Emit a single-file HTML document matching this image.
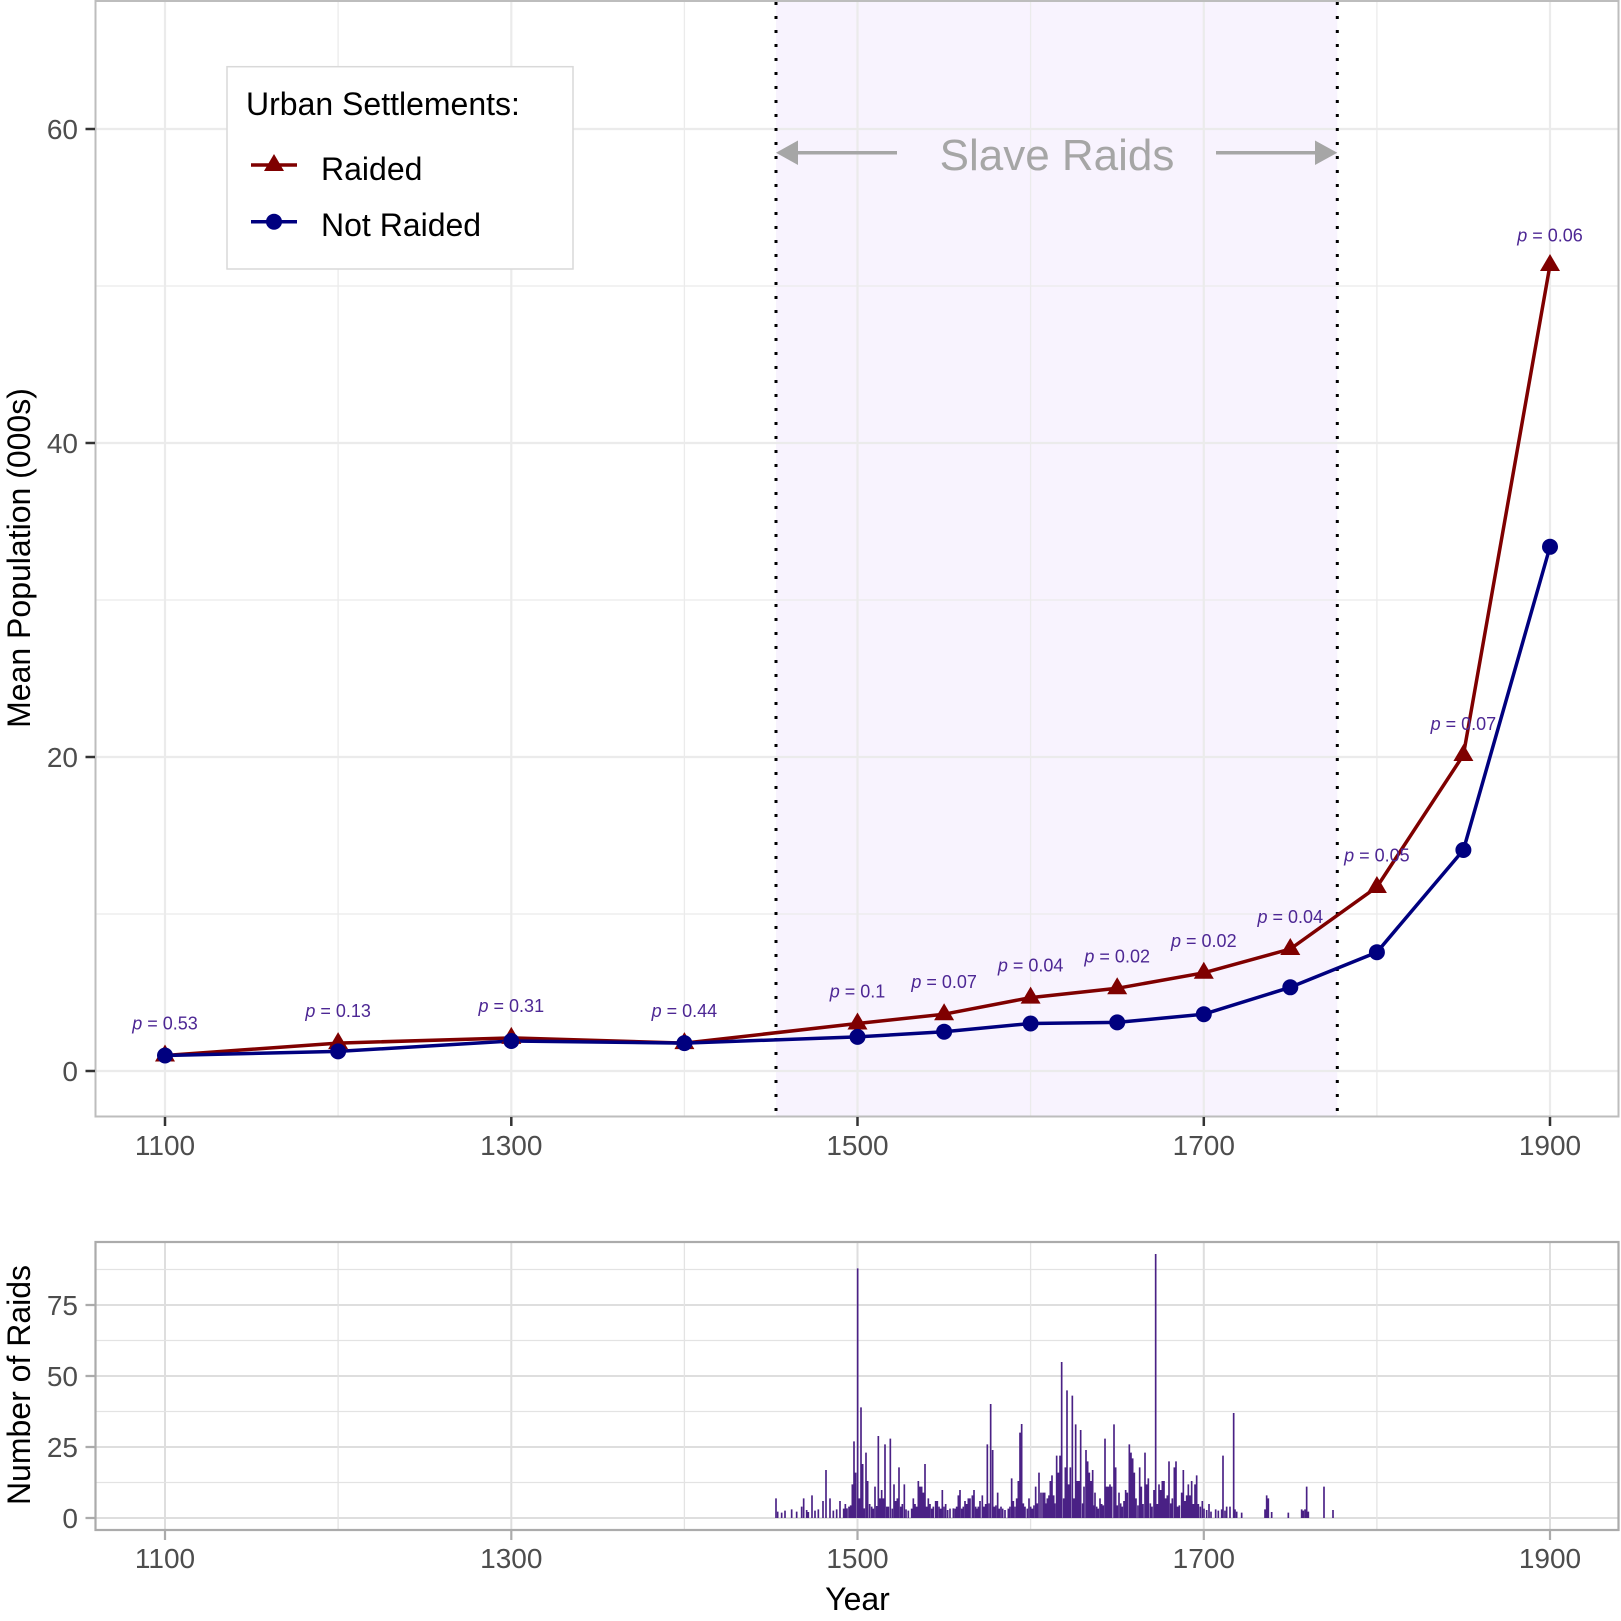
<!DOCTYPE html>
<html><head><meta charset="utf-8"><style>
html,body{margin:0;padding:0;background:#fff}
svg{display:block}
text{font-family:"Liberation Sans",Arial,sans-serif}
</style></head><body>
<svg width="1621" height="1621" viewBox="0 0 1621 1621" xmlns="http://www.w3.org/2000/svg">
<rect width="1621" height="1621" fill="#fff"/>
<!-- TOP PANEL -->
<rect x="776" y="1" width="561.3" height="1115.7" fill="#f8f3fe"/>
<g stroke="#ebebeb" stroke-width="2.2" fill="none">
<path d="M95 1071H1619M95 757H1619M95 443H1619M95 129H1619"/>
<path d="M165 1V1116M511.3 1V1116M857.5 1V1116M1203.8 1V1116M1550 1V1116"/>
</g>
<g stroke="#ebebeb" stroke-width="1.3" fill="none">
<path d="M95 914H1619M95 600H1619M95 286H1619"/>
<path d="M338.1 1V1116M684.4 1V1116M1030.6 1V1116M1376.9 1V1116"/>
</g>
<rect x="95.5" y="1" width="1523" height="1115.5" fill="none" stroke="#bdbdbd" stroke-width="2"/>
<!-- dotted lines -->
<g stroke="#000" stroke-width="3" stroke-dasharray="3 11">
<line x1="776" y1="2" x2="776" y2="1116"/>
<line x1="1337.3" y1="2" x2="1337.3" y2="1116"/>
</g>
<!-- slave raids annotation -->
<g stroke="#a6a6a6" stroke-width="3.5" fill="#a6a6a6">
<line x1="897" y1="152.7" x2="792" y2="152.7"/>
<polygon points="776,152.7 798,140.5 798,165" stroke="none"/>
<line x1="1216" y1="152.7" x2="1321" y2="152.7"/>
<polygon points="1337.3,152.7 1315,140.5 1315,165" stroke="none"/>
</g>
<text x="1057" y="170" font-size="44" fill="#a6a6a6" text-anchor="middle">Slave Raids</text>
<!-- series -->
<polyline fill="none" stroke="#7f0000" stroke-width="3.5" stroke-linejoin="round" points="165,1055.5 338.1,1043.1 511.3,1037.9 684.4,1043.1 857.5,1023.5 944.1,1014.2 1030.6,997.6 1117.2,988.3 1203.8,972.8 1290.3,949 1376.9,887 1463.4,755 1550,265"/>
<polyline fill="none" stroke="#00007f" stroke-width="3.5" stroke-linejoin="round" points="165,1055.5 338.1,1051.4 511.3,1041 684.4,1043.1 857.5,1036.9 944.1,1031.7 1030.6,1023.5 1117.2,1022.4 1203.8,1014.2 1290.3,987.3 1376.9,952.2 1463.4,850 1550,546.8"/>
<g fill="#7f0000">
<path d="M0 -11L10 6L-10 6Z" transform="translate(165,1055.5)"/>
<path d="M0 -11L10 6L-10 6Z" transform="translate(338.1,1043.1)"/>
<path d="M0 -11L10 6L-10 6Z" transform="translate(511.3,1037.9)"/>
<path d="M0 -11L10 6L-10 6Z" transform="translate(684.4,1043.1)"/>
<path d="M0 -11L10 6L-10 6Z" transform="translate(857.5,1023.5)"/>
<path d="M0 -11L10 6L-10 6Z" transform="translate(944.1,1014.2)"/>
<path d="M0 -11L10 6L-10 6Z" transform="translate(1030.6,997.6)"/>
<path d="M0 -11L10 6L-10 6Z" transform="translate(1117.2,988.3)"/>
<path d="M0 -11L10 6L-10 6Z" transform="translate(1203.8,972.8)"/>
<path d="M0 -11L10 6L-10 6Z" transform="translate(1290.3,949)"/>
<path d="M0 -11L10 6L-10 6Z" transform="translate(1376.9,887)"/>
<path d="M0 -11L10 6L-10 6Z" transform="translate(1463.4,755)"/>
<path d="M0 -11L10 6L-10 6Z" transform="translate(1550,265)"/>
</g>
<g fill="#00007f">
<circle cx="165" cy="1055.5" r="8"/><circle cx="338.1" cy="1051.4" r="8"/><circle cx="511.3" cy="1041" r="8"/><circle cx="684.4" cy="1043.1" r="8"/><circle cx="857.5" cy="1036.9" r="8"/><circle cx="944.1" cy="1031.7" r="8"/><circle cx="1030.6" cy="1023.5" r="8"/><circle cx="1117.2" cy="1022.4" r="8"/><circle cx="1203.8" cy="1014.2" r="8"/><circle cx="1290.3" cy="987.3" r="8"/><circle cx="1376.9" cy="952.2" r="8"/><circle cx="1463.4" cy="850" r="8"/><circle cx="1550" cy="546.8" r="8"/>
</g>
<!-- p labels -->
<g font-size="18" fill="#4d2794" text-anchor="middle">
<text x="165" y="1029.5"><tspan font-style="italic">p</tspan> = 0.53</text>
<text x="338.1" y="1017"><tspan font-style="italic">p</tspan> = 0.13</text>
<text x="511.3" y="1012"><tspan font-style="italic">p</tspan> = 0.31</text>
<text x="684.4" y="1017"><tspan font-style="italic">p</tspan> = 0.44</text>
<text x="857.5" y="997.5"><tspan font-style="italic">p</tspan> = 0.1</text>
<text x="944.1" y="988.2"><tspan font-style="italic">p</tspan> = 0.07</text>
<text x="1030.6" y="971.6"><tspan font-style="italic">p</tspan> = 0.04</text>
<text x="1117.2" y="962.3"><tspan font-style="italic">p</tspan> = 0.02</text>
<text x="1203.8" y="946.8"><tspan font-style="italic">p</tspan> = 0.02</text>
<text x="1290.3" y="923"><tspan font-style="italic">p</tspan> = 0.04</text>
<text x="1376.9" y="861.5"><tspan font-style="italic">p</tspan> = 0.05</text>
<text x="1463.4" y="730"><tspan font-style="italic">p</tspan> = 0.07</text>
<text x="1550" y="241.5"><tspan font-style="italic">p</tspan> = 0.06</text>
</g>
<!-- top axes -->
<g stroke="#333" stroke-width="2.5">
<path d="M85.5 1071H95M85.5 757H95M85.5 443H95M85.5 129H95"/>
<path d="M165 1117V1126M511.3 1117V1126M857.5 1117V1126M1203.8 1117V1126M1550 1117V1126"/>
</g>
<g font-size="28" fill="#4d4d4d">
<g text-anchor="end">
<text x="78" y="1081">0</text><text x="78" y="767">20</text><text x="78" y="453">40</text><text x="78" y="139">60</text>
</g>
<g text-anchor="middle">
<text x="165" y="1155">1100</text><text x="511.3" y="1155">1300</text><text x="857.5" y="1155">1500</text><text x="1203.8" y="1155">1700</text><text x="1550" y="1155">1900</text>
</g>
</g>
<text transform="translate(30,558) rotate(-90)" font-size="32" fill="#000" text-anchor="middle">Mean Population (000s)</text>
<!-- legend -->
<rect x="227" y="66.7" width="346" height="202.3" fill="#fff" stroke="#d9d9d9" stroke-width="1.5"/>
<text x="246" y="115" font-size="32" fill="#000">Urban Settlements:</text>
<line x1="251" y1="165" x2="297" y2="165" stroke="#7f0000" stroke-width="3.5"/>
<path d="M274 154L284 171L264 171Z" fill="#7f0000"/>
<text x="321" y="180" font-size="32" fill="#000">Raided</text>
<line x1="251" y1="221.7" x2="297" y2="221.7" stroke="#00007f" stroke-width="3.5"/>
<circle cx="274" cy="221.7" r="8" fill="#00007f"/>
<text x="321" y="236" font-size="32" fill="#000">Not Raided</text>

<!-- BOTTOM PANEL -->
<g stroke="#dedede" stroke-width="2" fill="none">
<path d="M95 1518H1619M95 1447H1619M95 1376H1619M95 1305H1619"/>
<path d="M165 1242V1530M511.3 1242V1530M857.5 1242V1530M1203.8 1242V1530M1550 1242V1530"/>
</g>
<g stroke="#e3e3e3" stroke-width="1.3" fill="none">
<path d="M95 1482.5H1619M95 1411.5H1619M95 1340.5H1619M95 1269.5H1619"/>
<path d="M338.1 1242V1530M684.4 1242V1530M1030.6 1242V1530M1376.9 1242V1530"/>
</g>
<g fill="none" stroke="#4a2185" stroke-width="5">
<path transform="translate(765,1240) scale(0.33333)" d="M33 775V834M80 808V834M110 800V834M116 775V834M141 766V834M174 783V834M183 690V834M195 775V834M225 783V834M241 792V834M246 805V834M262 733V834M267 604V834M272 698V834M278 85V834M283 775V834M288 502V834M293 672V834M303 638V834M308 723V834M314 792V834M330 740V834M340 588V834M345 775V834M350 750V834M355 775V834M360 613V834M370 800V834M376 596V834M387 733V834M392 783V834M397 775V834M402 682V834M412 792V834M418 733V834M445 775V834M450 792V834M455 800V834M460 723V834M465 740V834M470 740V834M475 758V834M480 672V834M485 800V834M490 775V834M495 792V834M512 783V834M517 783V834M532 750V834M542 792V834M565 805V834M580 766V834M585 750V834M600 783V834M605 792V834M610 775V834M615 775V834M622 766V834M627 750V834M640 800V834M645 783V834M652 766V834M657 800V834M662 792V834M667 613V834M677 492V834M683 630V834M698 758V834M708 800V834M740 715V834M745 783V834M755 775V834M760 723V834M765 578V834M770 552V834M792 775V834M812 740V834M822 698V834M828 758V834M834 758V834M839 758V834M847 775V834M852 766V834M856 723V834M861 706V834M866 766V834"/>
<path transform="translate(765,1240) scale(0.33333)" d="M38 815V834M50 818V834M60 812V834M95 815V834M125 810V834M130 816V834M150 812V834M160 808V834M205 812V834M215 808V834M236 806V834M252 800V834M257 796V834M298 805V834M320 800V834M325 806V834M335 798V834M365 800V834M382 806V834M407 800V834M423 808V834M430 812V834M440 806V834M500 806V834M505 800V834M522 800V834M527 806V834M537 800V834M548 810V834M555 806V834M570 806V834M575 800V834M590 806V834M595 800V834M632 800V834M635 806V834M672 790V834M688 800V834M693 796V834M703 806V834M713 806V834M720 810V834M730 806V834M735 800V834M750 800V834M775 790V834M780 800V834M787 806V834M797 800V834M802 806V834M807 796V834M817 790V834M843 790V834"/>
<path transform="translate(1055,1240) scale(0.33333)" d="M5 647V834M10 698V834M15 647V834M20 366V834M26 775V834M31 682V834M36 451V834M41 733V834M46 682V834M52 467V834M57 775V834M62 553V834M67 723V834M72 723V834M77 570V834M87 740V834M93 630V834M98 664V834M103 698V834M108 723V834M113 690V834M120 758V834M135 775V834M140 792V834M150 596V834M155 740V834M160 740V834M165 733V834M170 740V834M177 553V834M182 682V834M192 758V834M207 783V834M212 750V834M217 758V834M223 613V834M228 638V834M233 655V834M238 698V834M243 775V834M254 682V834M259 740V834M264 792V834M270 638V834M275 733V834M280 715V834M297 750V834M302 42V834M307 792V834M312 733V834M317 750V834M322 723V834M327 723V834M332 775V834M337 766V834M342 664V834M352 775V834M358 682V834M363 664V834M368 800V834M380 758V834M385 690V834M390 783V834M395 766V834M400 733V834M405 766V834M410 723V834M415 792V834M420 733V834M425 706V834M430 792V834M436 800V834M442 783V834M462 792V834M482 808V834M500 808V834M504 647V834M515 800V834M525 800V834M536 519V834M540 808V834M630 808V834M635 766V834M640 775V834M740 808V834M750 808V834M755 740V834M807 740V834M834 810V834"/>
<path transform="translate(1055,1240) scale(0.33333)" d="M0 790V834M83 790V834M117 796V834M125 800V834M130 806V834M145 796V834M187 796V834M197 790V834M202 800V834M249 796V834M286 790V834M291 800V834M347 790V834M373 796V834M447 806V834M455 810V834M468 815V834M490 812V834M510 812V834M545 815V834M560 818V834M650 816V834M700 818V834M745 812V834M760 815V834"/>
</g>
<rect x="95.5" y="1242" width="1523" height="288" fill="none" stroke="#ababab" stroke-width="2.2"/>
<g stroke="#ababab" stroke-width="2.2">
<path d="M85.5 1518H95M85.5 1447H95M85.5 1376H95M85.5 1305H95"/>
<path d="M165 1531V1540M511.3 1531V1540M857.5 1531V1540M1203.8 1531V1540M1550 1531V1540"/>
</g>
<g font-size="28" fill="#4d4d4d">
<g text-anchor="end">
<text x="78" y="1528">0</text><text x="78" y="1457">25</text><text x="78" y="1386">50</text><text x="78" y="1315">75</text>
</g>
<g text-anchor="middle">
<text x="165" y="1568">1100</text><text x="511.3" y="1568">1300</text><text x="857.5" y="1568">1500</text><text x="1203.8" y="1568">1700</text><text x="1550" y="1568">1900</text>
</g>
</g>
<text transform="translate(30,1385) rotate(-90)" font-size="32" fill="#000" text-anchor="middle">Number of Raids</text>
<text x="857.5" y="1610" font-size="32" fill="#000" text-anchor="middle">Year</text>
</svg>
</body></html>
